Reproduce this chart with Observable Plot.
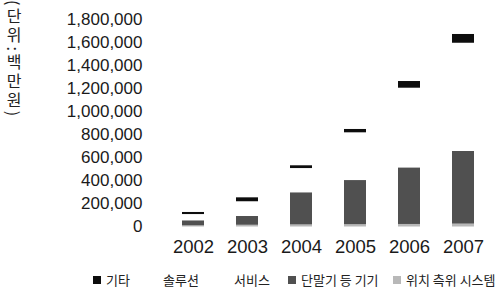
<!DOCTYPE html>
<html><head><meta charset="utf-8">
<script src="https://cdn.jsdelivr.net/npm/d3@7"></script>
<script src="https://cdn.jsdelivr.net/npm/@observablehq/plot@0.6"></script>
<style>
body{margin:0;background:#fff;}
#wrap{position:relative;width:501px;height:292px;overflow:hidden;}
#ytitle{position:absolute;left:5px;top:0px;writing-mode:vertical-rl;text-orientation:mixed;font-family:"Noto Sans CJK KR",sans-serif;font-size:16px;letter-spacing:3px;color:#222;line-height:17px;}
#legend{position:relative;width:501px;height:30px;font-family:"Noto Sans CJK KR",sans-serif;font-size:13px;color:#222;}
.li{position:absolute;top:10px;line-height:16px;white-space:nowrap;display:flex;align-items:center;}
.sw{display:inline-block;width:8px;height:8px;margin-right:5px;}
</style></head><body>
<div id="wrap"><div id="ytitle">(단위:백만원)</div><div id="chart"></div><div id="legend"></div></div>
<script>
const years = ["2002","2003","2004","2005","2006","2007"];
const seriesNames = ["위치 측위 시스템","단말기 등 기기","서비스","솔루션","기타"];
const legendOrder = ["기타","솔루션","서비스","단말기 등 기기","위치 측위 시스템"];
const positioning = [10000, 15000, 18000, 20000, 22000, 25000];
const devices = [44000, 76000, 279000, 383000, 491000, 630000];
const services = [30000, 70000, 120000, 230000, 380000, 540000];
const solutions = [24000, 58000, 90000, 184000, 311000, 399000];
const others = [18000, 34000, 24000, 29000, 58000, 76000];
const yTicks = [0,200000,400000,600000,800000,1000000,1200000,1400000,1600000,1800000];
const colors = ["#b8b8b8","#505050","#ffffff","#ffffff","#0d0d0d"];

const valuesBySeries = [positioning, devices, services, solutions, others];
const data = [];
seriesNames.forEach((s, i) => years.forEach((y, j) => data.push({series: s, year: y, value: valuesBySeries[i][j]})));

const chart = Plot.plot({
  width: 501, height: 262,
  marginLeft: 165, marginRight: 10, marginTop: 19, marginBottom: 35.5,
  style: {fontFamily: "'Liberation Sans', Arial, sans-serif", fontSize: "17px", color: "#1a1a1a", background: "#fff"},
  x: {domain: years, paddingInner: 0.595, paddingOuter: 0.3, label: null},
  y: {domain: [0, 1800000], label: null},
  color: {domain: seriesNames, range: colors},
  marks: [
    Plot.barY(data, {x: "year", y: "value", fill: "series", order: seriesNames}),
    Plot.axisY({ticks: yTicks, tickFormat: d3.format(","), tickSize: 0, tickPadding: 23, label: null}),
    Plot.axisX({tickSize: 0, tickPadding: 13, label: null, fontSize: 18.5})
  ]
});
document.getElementById("chart").appendChild(chart);

const legendX = [93, 163, 234, 288, 393];
const legend = document.getElementById("legend");
legendOrder.forEach((name, i) => {
  const item = document.createElement("div");
  item.className = "li";
  item.style.left = legendX[i] + "px";
  const c = colors[seriesNames.indexOf(name)];
  if (c !== "#ffffff") {
    const sw = document.createElement("span");
    sw.className = "sw";
    sw.style.background = c;
    item.appendChild(sw);
  }
  item.appendChild(document.createTextNode(name));
  legend.appendChild(item);
});
</script>
</body></html>
